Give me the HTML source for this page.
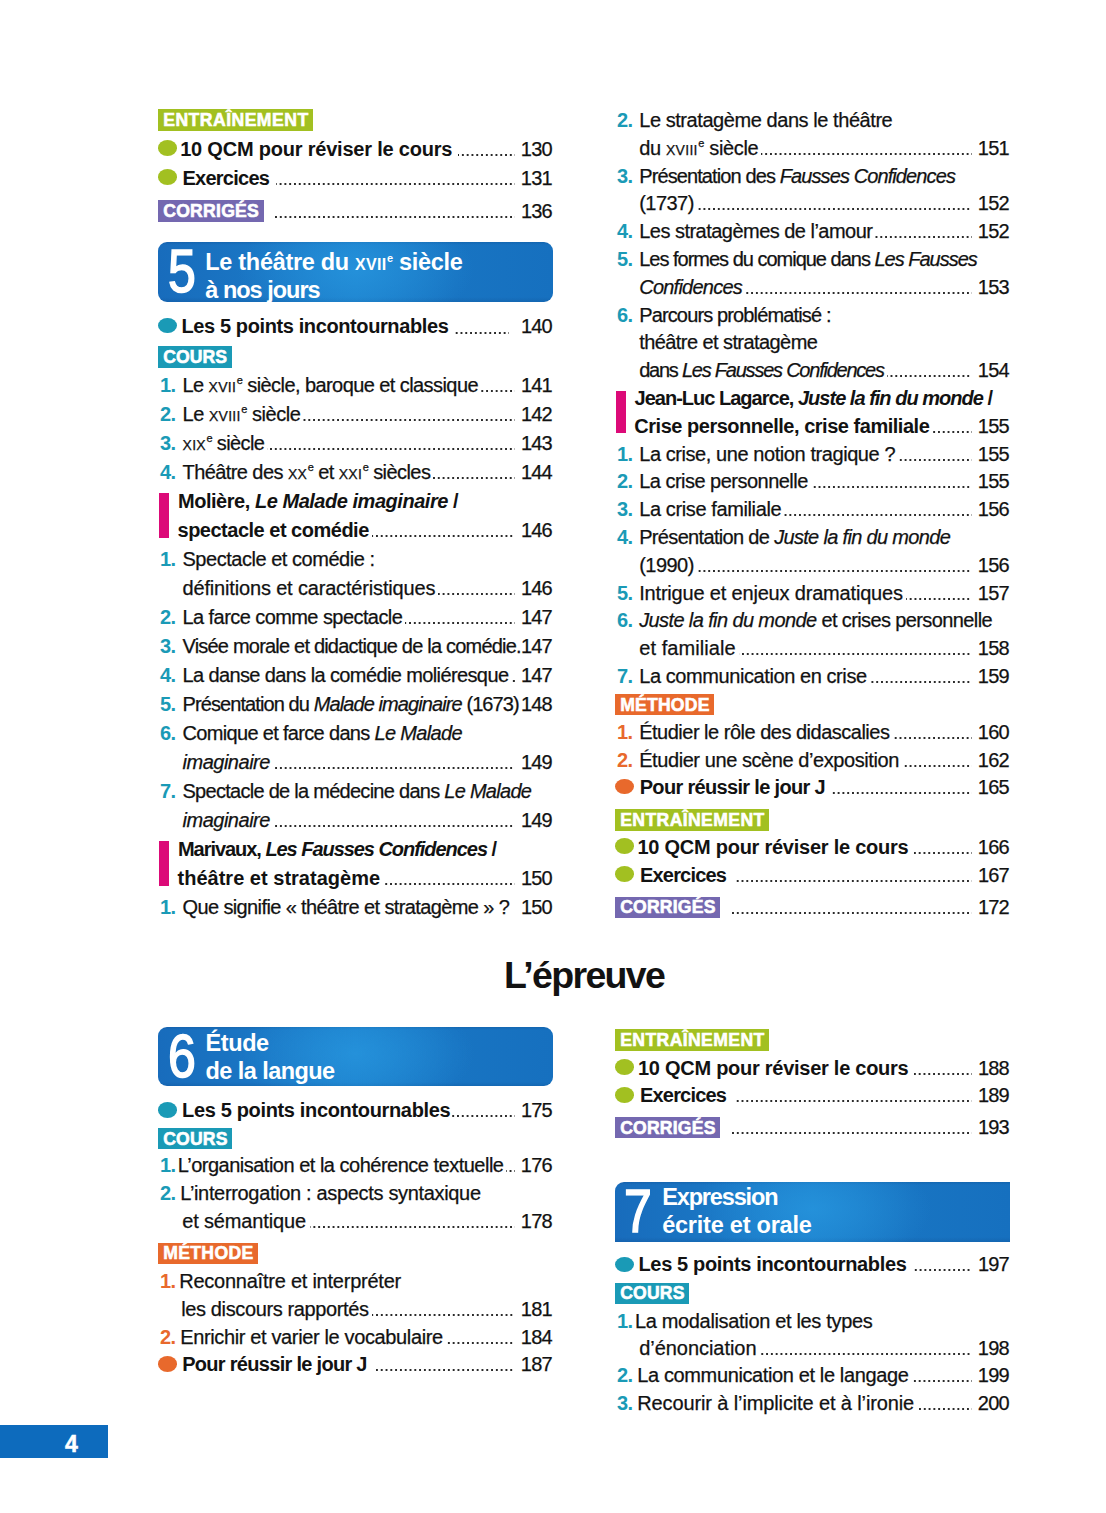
<!DOCTYPE html>
<html lang="fr"><head><meta charset="utf-8"><title>Sommaire</title>
<style>
*{margin:0;padding:0;box-sizing:border-box}
html,body{width:1106px;height:1513px;background:#fff;overflow:hidden}
body{position:relative;font-family:"Liberation Sans",Arial,sans-serif;color:#121212}
.l{position:absolute;height:20px;line-height:20px;font-size:20px;white-space:nowrap;display:flex;letter-spacing:-0.45px;-webkit-text-stroke:0.25px #121212}
.l.b{-webkit-text-stroke:0}
.l .t{flex:0 1 auto;min-width:0}
.l .d{flex:1 1 auto;min-width:0;background-image:linear-gradient(90deg,#2a2a2a 0,#2a2a2a 1.6px,rgba(0,0,0,0) 1.6px);background-size:4.8px 1.6px;background-repeat:repeat-x;background-position:right 0 top 15.2px;margin:0 6px 0 3px}
.l .p{flex:none;letter-spacing:-0.75px;font-weight:normal;margin-right:1px;-webkit-text-stroke:0.25px #121212}
.b{font-weight:bold;letter-spacing:-0.3px}
i{font-style:italic}
.sc{font-variant:small-caps;letter-spacing:0.3px}
sup{font-size:11px;vertical-align:0;position:relative;top:-8px;margin-left:0.5px}
.n{position:absolute;font-weight:bold;font-size:20px;line-height:20px;height:20px;letter-spacing:-0.5px}
.lab{position:absolute;color:#fff;font-weight:bold;font-size:17.6px;line-height:22px;height:22px;letter-spacing:0.6px;padding-left:5.2px;white-space:nowrap;-webkit-text-stroke:0.6px #fff}
.bul{position:absolute;width:19px;height:15.5px;border-radius:50%}
.bar{position:absolute;width:10px;background:#dc0a78}
.box{position:absolute;background:radial-gradient(ellipse 30% 100% at 50% 45%,rgba(40,152,224,.7),rgba(40,152,224,0) 100%),linear-gradient(180deg,rgba(0,30,80,.14) 0,rgba(0,0,0,0) 3px,rgba(0,0,0,0) 55px,rgba(0,30,80,.12) 100%),linear-gradient(90deg,#186cbc 0%,#1a76c4 25%,#1c80cc 50%,#1874c2 75%,#1670bf 100%)}
.dig{position:absolute;color:#fff;font-size:61px;line-height:61px;font-weight:normal;transform-origin:0 0;transform:scaleX(0.82);-webkit-text-stroke:1.6px #fff}
.bt{position:absolute;color:#fff;font-weight:bold;font-size:23.5px;line-height:22px;white-space:nowrap;letter-spacing:-0.2px}
</style></head>
<body>
<div class="lab" style="left:158px;top:109px;width:155px;height:22px;line-height:23px;background:#a2c021"><span class="t" id="L0" style="letter-spacing:0.47px">ENTRAÎNEMENT</span></div>
<div class="bul" style="left:158px;top:140.4px;background:#a2c021"></div>
<div class="l b" style="left:180.2px;top:138.9px;width:372.8px;letter-spacing:-0.21px"><span class="t" id="L1">10 QCM pour réviser le cours</span><span class="d" style="margin-left:6px;margin-right:6px"></span><span class="p">130</span></div>
<div class="bul" style="left:158px;top:169.2px;background:#a2c021"></div>
<div class="l b" style="left:182.4px;top:167.7px;width:370.6px;letter-spacing:-0.734px"><span class="t" id="L2">Exercices</span><span class="d" style="margin-left:7px;margin-right:6px"></span><span class="p">131</span></div>
<div class="lab" style="left:158px;top:199.5px;width:105.5px;height:22.0px;line-height:23.0px;background:#7468b0"><span class="t" id="L3" style="letter-spacing:0.257px">CORRIGÉS</span></div>
<div class="l" style="left:270px;top:200.7px;width:283px"><span class="t" id="L4"></span><span class="d" style="margin-left:3px;margin-right:6px"></span><span class="p">136</span></div>
<div class="box" style="left:158px;top:242px;width:395px;height:59.5px;border-radius:9px"></div>
<div class="dig" style="left:168px;top:241px">5</div>
<div class="bt" style="left:205.3px;top:251.4px"><span class="t" id="L5" style="letter-spacing:-0.31px">Le théâtre du <span class="sc">xvii</span><sup>e</sup> siècle</span></div>
<div class="bt" style="left:205.3px;top:279.1px"><span class="t" id="L6" style="letter-spacing:-0.997px">à nos jours</span></div>
<div class="bul" style="left:158px;top:317.9px;background:#1a9ab6"></div>
<div class="l b" style="left:181.5px;top:316.4px;width:371.5px;letter-spacing:-0.39px"><span class="t" id="L7">Les 5 points incontournables</span><span class="d" style="margin-left:6px;margin-right:12px"></span><span class="p">140</span></div>
<div class="lab" style="left:158px;top:346px;width:73.5px;height:22px;line-height:23px;background:#1a9ab6"><span class="t" id="L8" style="letter-spacing:0.072px">COURS</span></div>
<div class="l" style="left:182.5px;top:374.7px;width:370.5px;letter-spacing:-0.575px"><span class="t" id="L9">Le <span class="sc">xvii</span><sup>e</sup> siècle, baroque et classique</span><span class="d" style="margin-left:3px;margin-right:6px"></span><span class="p">141</span></div>
<div class="n" style="left:160px;top:374.7px;color:#1a9ab6">1.</div>
<div class="l" style="left:182.5px;top:403.7px;width:370.5px;letter-spacing:-0.472px"><span class="t" id="L10">Le <span class="sc">xviii</span><sup>e</sup> siècle</span><span class="d" style="margin-left:3px;margin-right:6px"></span><span class="p">142</span></div>
<div class="n" style="left:160px;top:403.7px;color:#1a9ab6">2.</div>
<div class="l" style="left:182.5px;top:432.7px;width:370.5px;letter-spacing:-0.636px"><span class="t" id="L11"><span class="sc">xix</span><sup>e</sup> siècle</span><span class="d" style="margin-left:3px;margin-right:6px"></span><span class="p">143</span></div>
<div class="n" style="left:160px;top:432.7px;color:#1a9ab6">3.</div>
<div class="l" style="left:182.5px;top:461.7px;width:370.5px;letter-spacing:-0.576px"><span class="t" id="L12">Théâtre des <span class="sc">xx</span><sup>e</sup> et <span class="sc">xxi</span><sup>e</sup> siècles</span><span class="d" style="margin-left:3px;margin-right:6px"></span><span class="p">144</span></div>
<div class="n" style="left:160px;top:461.7px;color:#1a9ab6">4.</div>
<div class="bar" style="left:159px;top:493.3px;height:44.400000000000034px"></div>
<div class="l b" style="left:178px;top:490.7px;width:375px;letter-spacing:-0.467px"><span class="t" id="L13">Molière, <i>Le Malade imaginaire</i> /</span></div>
<div class="l b" style="left:177.5px;top:519.7px;width:375.5px;letter-spacing:-0.496px"><span class="t" id="L14">spectacle et comédie</span><span class="d" style="margin-left:3px;margin-right:6px"></span><span class="p">146</span></div>
<div class="l" style="left:182.5px;top:548.7px;width:370.5px;letter-spacing:-0.47px"><span class="t" id="L15">Spectacle et comédie :</span></div>
<div class="n" style="left:160px;top:548.7px;color:#1a9ab6">1.</div>
<div class="l" style="left:182.5px;top:577.7px;width:370.5px;letter-spacing:-0.165px"><span class="t" id="L16">définitions et caractéristiques</span><span class="d" style="margin-left:3px;margin-right:6px"></span><span class="p">146</span></div>
<div class="l" style="left:182.5px;top:606.7px;width:370.5px;letter-spacing:-0.569px"><span class="t" id="L17">La farce comme spectacle</span><span class="d" style="margin-left:3px;margin-right:6px"></span><span class="p">147</span></div>
<div class="n" style="left:160px;top:606.7px;color:#1a9ab6">2.</div>
<div class="l" style="left:182.5px;top:635.7px;width:370.5px;letter-spacing:-0.797px"><span class="t" id="L18">Visée morale et didactique de la comédie.</span><span class="d" style="margin-left:3px;margin-right:6px"></span><span class="p">147</span></div>
<div class="n" style="left:160px;top:635.7px;color:#1a9ab6">3.</div>
<div class="l" style="left:182.5px;top:664.7px;width:370.5px;letter-spacing:-0.614px"><span class="t" id="L19">La danse dans la comédie moliéresque</span><span class="d" style="margin-left:3.5px;margin-right:3.5px"></span><span class="p">147</span></div>
<div class="n" style="left:160px;top:664.7px;color:#1a9ab6">4.</div>
<div class="l" style="left:182.5px;top:693.7px;width:370.5px;letter-spacing:-0.905px"><span class="t" id="L20">Présentation du <i>Malade imaginaire</i> (1673)</span><span class="d" style="margin-left:3px;margin-right:6px"></span><span class="p">148</span></div>
<div class="n" style="left:160px;top:693.7px;color:#1a9ab6">5.</div>
<div class="l" style="left:182.5px;top:722.7px;width:370.5px;letter-spacing:-0.671px"><span class="t" id="L21">Comique et farce dans <i>Le Malade</i></span></div>
<div class="n" style="left:160px;top:722.7px;color:#1a9ab6">6.</div>
<div class="l" style="left:182.5px;top:751.7px;width:370.5px;letter-spacing:-0.487px"><span class="t" id="L22"><i>imaginaire</i></span><span class="d" style="margin-left:3px;margin-right:6px"></span><span class="p">149</span></div>
<div class="l" style="left:182.5px;top:780.7px;width:370.5px;letter-spacing:-0.724px"><span class="t" id="L23">Spectacle de la médecine dans <i>Le Malade</i></span></div>
<div class="n" style="left:160px;top:780.7px;color:#1a9ab6">7.</div>
<div class="l" style="left:182.5px;top:809.7px;width:370.5px;letter-spacing:-0.487px"><span class="t" id="L24"><i>imaginaire</i></span><span class="d" style="margin-left:3px;margin-right:6px"></span><span class="p">149</span></div>
<div class="bar" style="left:159px;top:841.3px;height:44.40000000000009px"></div>
<div class="l b" style="left:178px;top:838.7px;width:375px;letter-spacing:-1.046px"><span class="t" id="L25">Marivaux, <i>Les Fausses Confidences</i> /</span></div>
<div class="l b" style="left:177.5px;top:867.7px;width:375.5px;letter-spacing:0.014px"><span class="t" id="L26">théâtre et stratagème</span><span class="d" style="margin-left:3px;margin-right:6px"></span><span class="p">150</span></div>
<div class="l" style="left:182.5px;top:896.7px;width:370.5px;letter-spacing:-0.616px"><span class="t" id="L27">Que signifie « théâtre et stratagème » ?</span><span class="d" style="margin-left:3px;margin-right:6px"></span><span class="p">150</span></div>
<div class="n" style="left:160px;top:896.7px;color:#1a9ab6">1.</div>
<div class="l" style="left:639.2px;top:109.9px;width:370.79999999999995px;letter-spacing:-0.435px"><span class="t" id="L28">Le stratagème dans le théâtre</span></div>
<div class="n" style="left:617px;top:109.9px;color:#1a9ab6">2.</div>
<div class="l" style="left:639.2px;top:137.7px;width:370.79999999999995px;letter-spacing:-0.344px"><span class="t" id="L29">du <span class="sc">xviii</span><sup>e</sup> siècle</span><span class="d" style="margin-left:3px;margin-right:6px"></span><span class="p">151</span></div>
<div class="l" style="left:639.2px;top:165.5px;width:370.79999999999995px;letter-spacing:-0.894px"><span class="t" id="L30">Présentation des <i>Fausses Confidences</i></span></div>
<div class="n" style="left:617px;top:165.5px;color:#1a9ab6">3.</div>
<div class="l" style="left:639.2px;top:193.3px;width:370.79999999999995px;letter-spacing:-0.534px"><span class="t" id="L31">(1737)</span><span class="d" style="margin-left:3px;margin-right:6px"></span><span class="p">152</span></div>
<div class="l" style="left:639.2px;top:221.1px;width:370.79999999999995px;letter-spacing:-0.522px"><span class="t" id="L32">Les stratagèmes de l’amour</span><span class="d" style="margin-left:3px;margin-right:6px"></span><span class="p">152</span></div>
<div class="n" style="left:617px;top:221.1px;color:#1a9ab6">4.</div>
<div class="l" style="left:639.2px;top:248.9px;width:370.79999999999995px;letter-spacing:-1.004px"><span class="t" id="L33">Les formes du comique dans <i>Les Fausses</i></span></div>
<div class="n" style="left:617px;top:248.9px;color:#1a9ab6">5.</div>
<div class="l" style="left:639.2px;top:276.7px;width:370.79999999999995px;letter-spacing:-0.753px"><span class="t" id="L34"><i>Confidences</i></span><span class="d" style="margin-left:3px;margin-right:6px"></span><span class="p">153</span></div>
<div class="l" style="left:639.2px;top:304.5px;width:370.79999999999995px;letter-spacing:-0.861px"><span class="t" id="L35">Parcours problématisé :</span></div>
<div class="n" style="left:617px;top:304.5px;color:#1a9ab6">6.</div>
<div class="l" style="left:639.2px;top:332.3px;width:370.79999999999995px;letter-spacing:-0.572px"><span class="t" id="L36">théâtre et stratagème</span></div>
<div class="l" style="left:639.2px;top:360.1px;width:370.79999999999995px;letter-spacing:-1.231px"><span class="t" id="L37">dans <i>Les Fausses Confidences</i></span><span class="d" style="margin-left:3px;margin-right:6px"></span><span class="p">154</span></div>
<div class="bar" style="left:616px;top:390.5px;height:42.69999999999999px"></div>
<div class="l b" style="left:634.5px;top:387.9px;width:375.5px;letter-spacing:-0.985px"><span class="t" id="L38">Jean-Luc Lagarce, <i>Juste la fin du monde</i> /</span></div>
<div class="l b" style="left:634.3px;top:415.7px;width:375.70000000000005px;letter-spacing:-0.478px"><span class="t" id="L39">Crise personnelle, crise familiale</span><span class="d" style="margin-left:3px;margin-right:6px"></span><span class="p">155</span></div>
<div class="l" style="left:639.2px;top:443.5px;width:370.79999999999995px;letter-spacing:-0.425px"><span class="t" id="L40">La crise, une notion tragique ?</span><span class="d" style="margin-left:3px;margin-right:6px"></span><span class="p">155</span></div>
<div class="n" style="left:617px;top:443.5px;color:#1a9ab6">1.</div>
<div class="l" style="left:639.2px;top:471.3px;width:370.79999999999995px;letter-spacing:-0.52px"><span class="t" id="L41">La crise personnelle</span><span class="d" style="margin-left:3px;margin-right:6px"></span><span class="p">155</span></div>
<div class="n" style="left:617px;top:471.3px;color:#1a9ab6">2.</div>
<div class="l" style="left:639.2px;top:499.1px;width:370.79999999999995px;letter-spacing:-0.385px"><span class="t" id="L42">La crise familiale</span><span class="d" style="margin-left:3px;margin-right:6px"></span><span class="p">156</span></div>
<div class="n" style="left:617px;top:499.1px;color:#1a9ab6">3.</div>
<div class="l" style="left:639.2px;top:526.9px;width:370.79999999999995px;letter-spacing:-0.67px"><span class="t" id="L43">Présentation de <i>Juste la fin du monde</i></span></div>
<div class="n" style="left:617px;top:526.9px;color:#1a9ab6">4.</div>
<div class="l" style="left:639.2px;top:554.7px;width:370.79999999999995px;letter-spacing:-0.534px"><span class="t" id="L44">(1990)</span><span class="d" style="margin-left:3px;margin-right:6px"></span><span class="p">156</span></div>
<div class="l" style="left:639.2px;top:582.5px;width:370.79999999999995px;letter-spacing:-0.181px"><span class="t" id="L45">Intrigue et enjeux dramatiques</span><span class="d" style="margin-left:3px;margin-right:6px"></span><span class="p">157</span></div>
<div class="n" style="left:617px;top:582.5px;color:#1a9ab6">5.</div>
<div class="l" style="left:639.2px;top:610.3px;width:370.79999999999995px;letter-spacing:-0.612px"><span class="t" id="L46"><i>Juste la fin du monde</i> et crises personnelle</span></div>
<div class="n" style="left:617px;top:610.3px;color:#1a9ab6">6.</div>
<div class="l" style="left:639.2px;top:638.1px;width:370.79999999999995px;letter-spacing:0.068px"><span class="t" id="L47">et familiale</span><span class="d" style="margin-left:3px;margin-right:6px"></span><span class="p">158</span></div>
<div class="l" style="left:639.2px;top:665.9px;width:370.79999999999995px;letter-spacing:-0.416px"><span class="t" id="L48">La communication en crise</span><span class="d" style="margin-left:3px;margin-right:6px"></span><span class="p">159</span></div>
<div class="n" style="left:617px;top:665.9px;color:#1a9ab6">7.</div>
<div class="lab" style="left:615px;top:694px;width:99px;height:21.299999999999955px;line-height:22.299999999999955px;background:#e8692c"><span class="t" id="L49" style="letter-spacing:0.206px">MÉTHODE</span></div>
<div class="l" style="left:639.2px;top:721.8px;width:370.79999999999995px;letter-spacing:-0.5px"><span class="t" id="L50">Étudier le rôle des didascalies</span><span class="d" style="margin-left:3px;margin-right:6px"></span><span class="p">160</span></div>
<div class="n" style="left:617px;top:721.8px;color:#e8692c">1.</div>
<div class="l" style="left:639.2px;top:749.6px;width:370.79999999999995px;letter-spacing:-0.423px"><span class="t" id="L51">Étudier une scène d’exposition</span><span class="d" style="margin-left:3px;margin-right:6px"></span><span class="p">162</span></div>
<div class="n" style="left:617px;top:749.6px;color:#e8692c">2.</div>
<div class="bul" style="left:615px;top:778.7px;background:#e8692c"></div>
<div class="l b" style="left:639.7px;top:777.2px;width:370.29999999999995px;letter-spacing:-0.675px"><span class="t" id="L52">Pour réussir le jour J</span><span class="d" style="margin-left:7px;margin-right:6px"></span><span class="p">165</span></div>
<div class="lab" style="left:615px;top:809px;width:154px;height:22px;line-height:23px;background:#a2c021"><span class="t" id="L53" style="letter-spacing:0.387px">ENTRAÎNEMENT</span></div>
<div class="bul" style="left:615px;top:838.0px;background:#a2c021"></div>
<div class="l b" style="left:637.4px;top:836.5px;width:372.6px;letter-spacing:-0.246px"><span class="t" id="L54">10 QCM pour réviser le cours</span><span class="d" style="margin-left:6px;margin-right:6px"></span><span class="p">166</span></div>
<div class="bul" style="left:615px;top:866.1px;background:#a2c021"></div>
<div class="l b" style="left:640px;top:864.6px;width:370px;letter-spacing:-0.814px"><span class="t" id="L55">Exercices</span><span class="d" style="margin-left:9px;margin-right:6px"></span><span class="p">167</span></div>
<div class="lab" style="left:615px;top:897px;width:105px;height:20.5px;line-height:21.5px;background:#7468b0"><span class="t" id="L56" style="letter-spacing:0.195px">CORRIGÉS</span></div>
<div class="l" style="left:728px;top:897.0px;width:282px"><span class="t" id="L57"></span><span class="d" style="margin-left:3px;margin-right:6px"></span><span class="p">172</span></div>
<div style="position:absolute;left:504px;top:954.8px;font-size:37.5px;line-height:40px;font-weight:bold;color:#121212;white-space:nowrap"><span class="t" id="L58" style="letter-spacing:-1.644px">L’épreuve</span></div>
<div class="box" style="left:158px;top:1027.3px;width:395px;height:59.200000000000045px;border-radius:9px"></div>
<div class="dig" style="left:168px;top:1025.5px">6</div>
<div class="bt" style="left:205.5px;top:1032.1px"><span class="t" id="L59" style="letter-spacing:-0.398px">Étude</span></div>
<div class="bt" style="left:205.5px;top:1059.7px"><span class="t" id="L60" style="letter-spacing:-0.568px">de la langue</span></div>
<div class="bul" style="left:158px;top:1102.0px;background:#1a9ab6"></div>
<div class="l b" style="left:182px;top:1100.3px;width:371px;letter-spacing:-0.34px"><span class="t" id="L61">Les 5 points incontournables</span><span class="d" style="margin-left:2px;margin-right:6px"></span><span class="p">175</span></div>
<div class="lab" style="left:158px;top:1128.2px;width:74px;height:21.299999999999955px;line-height:22.299999999999955px;background:#1a9ab6"><span class="t" id="L62" style="letter-spacing:0.172px">COURS</span></div>
<div class="l" style="left:177.7px;top:1155.3px;width:375.3px;letter-spacing:-0.5px"><span class="t" id="L63">L’organisation et la cohérence textuelle</span><span class="d" style="margin-left:3px;margin-right:6px"></span><span class="p">176</span></div>
<div class="n" style="left:160px;top:1155.3px;color:#1a9ab6">1.</div>
<div class="l" style="left:180.2px;top:1183.1px;width:372.8px;letter-spacing:-0.331px"><span class="t" id="L64">L’interrogation : aspects syntaxique</span></div>
<div class="n" style="left:160px;top:1183.1px;color:#1a9ab6">2.</div>
<div class="l" style="left:182.2px;top:1211.0px;width:370.8px;letter-spacing:-0.141px"><span class="t" id="L65">et sémantique</span><span class="d" style="margin-left:4px;margin-right:6px"></span><span class="p">178</span></div>
<div class="lab" style="left:158px;top:1243.4px;width:100px;height:20.799999999999955px;line-height:21.799999999999955px;background:#e8692c"><span class="t" id="L66" style="letter-spacing:0.349px">MÉTHODE</span></div>
<div class="l" style="left:179.2px;top:1270.6px;width:373.8px;letter-spacing:-0.235px"><span class="t" id="L67">Reconnaître et interpréter</span></div>
<div class="n" style="left:160px;top:1270.6px;color:#e8692c">1.</div>
<div class="l" style="left:181.2px;top:1298.6px;width:371.8px;letter-spacing:-0.37px"><span class="t" id="L68">les discours rapportés</span><span class="d" style="margin-left:3px;margin-right:6px"></span><span class="p">181</span></div>
<div class="l" style="left:180.2px;top:1326.5px;width:372.8px;letter-spacing:-0.362px"><span class="t" id="L69">Enrichir et varier le vocabulaire</span><span class="d" style="margin-left:3px;margin-right:6px"></span><span class="p">184</span></div>
<div class="n" style="left:160px;top:1326.5px;color:#e8692c">2.</div>
<div class="bul" style="left:158px;top:1356.1px;background:#e8692c"></div>
<div class="l b" style="left:182.2px;top:1354.3px;width:370.8px;letter-spacing:-0.703px"><span class="t" id="L70">Pour réussir le jour J</span><span class="d" style="margin-left:9px;margin-right:6px"></span><span class="p">187</span></div>
<div class="lab" style="left:615px;top:1029px;width:154px;height:21.700000000000045px;line-height:22.700000000000045px;background:#a2c021"><span class="t" id="L71" style="letter-spacing:0.387px">ENTRAÎNEMENT</span></div>
<div class="bul" style="left:615px;top:1059.2px;background:#a2c021"></div>
<div class="l b" style="left:638px;top:1057.7px;width:372px;letter-spacing:-0.267px"><span class="t" id="L72">10 QCM pour réviser le cours</span><span class="d" style="margin-left:6px;margin-right:6px"></span><span class="p">188</span></div>
<div class="bul" style="left:615px;top:1087.0px;background:#a2c021"></div>
<div class="l b" style="left:640px;top:1084.8px;width:370px;letter-spacing:-0.814px"><span class="t" id="L73">Exercices</span><span class="d" style="margin-left:9px;margin-right:6px"></span><span class="p">189</span></div>
<div class="lab" style="left:615px;top:1117.2px;width:105px;height:21.200000000000045px;line-height:22.200000000000045px;background:#7468b0"><span class="t" id="L74" style="letter-spacing:0.195px">CORRIGÉS</span></div>
<div class="l" style="left:728px;top:1116.7px;width:282px"><span class="t" id="L75"></span><span class="d" style="margin-left:3px;margin-right:6px"></span><span class="p">193</span></div>
<div class="box" style="left:615px;top:1182px;width:395px;height:59.799999999999955px;border-radius:9px 0 0 0"></div>
<div class="dig" style="left:624px;top:1181px">7</div>
<div class="bt" style="left:662.2px;top:1186.0px"><span class="t" id="L76" style="letter-spacing:-1.148px">Expression</span></div>
<div class="bt" style="left:662.2px;top:1214.0px"><span class="t" id="L77" style="letter-spacing:-0.229px">écrite et orale</span></div>
<div class="bul" style="left:615px;top:1256.5px;background:#1a9ab6"></div>
<div class="l b" style="left:638.5px;top:1254.3px;width:371.5px;letter-spacing:-0.351px"><span class="t" id="L78">Les 5 points incontournables</span><span class="d" style="margin-left:6px;margin-right:6px"></span><span class="p">197</span></div>
<div class="lab" style="left:615px;top:1283.2px;width:74px;height:20.399999999999864px;line-height:21.399999999999864px;background:#1a9ab6"><span class="t" id="L79" style="letter-spacing:0.172px">COURS</span></div>
<div class="l" style="left:634.9px;top:1310.6px;width:375.1px;letter-spacing:-0.332px"><span class="t" id="L80">La modalisation et les types</span></div>
<div class="n" style="left:617px;top:1310.6px;color:#1a9ab6">1.</div>
<div class="l" style="left:639.2px;top:1338.0px;width:370.79999999999995px;letter-spacing:-0.044px"><span class="t" id="L81">d’énonciation</span><span class="d" style="margin-left:3px;margin-right:6px"></span><span class="p">198</span></div>
<div class="l" style="left:637.3px;top:1365.3px;width:372.70000000000005px;letter-spacing:-0.377px"><span class="t" id="L82">La communication et le langage</span><span class="d" style="margin-left:3px;margin-right:6px"></span><span class="p">199</span></div>
<div class="n" style="left:617px;top:1365.3px;color:#1a9ab6">2.</div>
<div class="l" style="left:637.3px;top:1393.0px;width:372.70000000000005px;letter-spacing:-0.123px"><span class="t" id="L83">Recourir à l’implicite et à l’ironie</span><span class="d" style="margin-left:3px;margin-right:6px"></span><span class="p">200</span></div>
<div class="n" style="left:617px;top:1393.0px;color:#1a9ab6">3.</div>
<div style="position:absolute;left:0;top:1425px;width:108px;height:33px;background:#0d6bbd"></div>
<div style="position:absolute;left:65px;top:1428.6px;font-size:23px;line-height:30px;font-weight:bold;color:#fff;-webkit-text-stroke:0.5px #fff">4</div>
</body></html>
